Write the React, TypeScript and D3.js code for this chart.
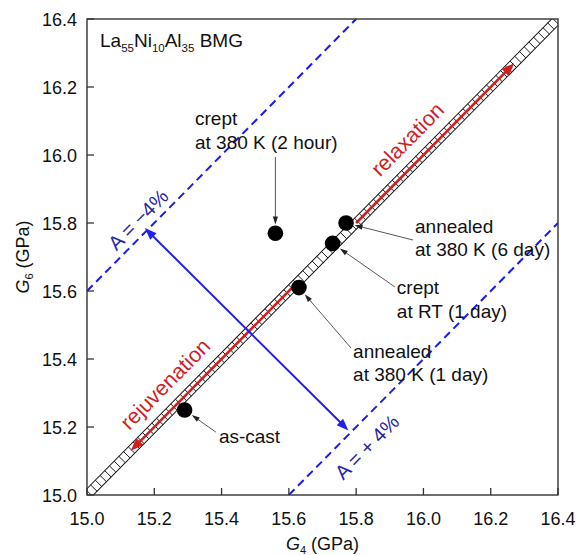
import React from "react";
import * as d3 from "d3";

// samples (G4, G6 in GPa)
const sampleLines = [
  ["as-cast"],
  ["annealed", "at 380 K (1 day)"],
  ["crept", "at 380 K (2 hour)"],
  ["crept", "at RT (1 day)"],
  ["annealed", "at 380 K (6 day)"],
];
const g4Values = [15.29, 15.63, 15.56, 15.73, 15.77];
const g6Values = [15.25, 15.61, 15.77, 15.74, 15.8];

const tickValues = [15.0, 15.2, 15.4, 15.6, 15.8, 16.0, 16.2, 16.4];

// iso-anisotropy lines G6 = G4 + offset
const anisoOffsets = [0.6, -0.6];
const anisoLabels = ["A = \u22124%", "A = + 4%"];

// red arrows along the G6 = G4 diagonal (tail, tip)
const relaxation = [15.8, 16.27];
const rejuvenation = [15.61, 15.13];
// blue arrow between the two dashed lines
const blueArrow = [
  [15.172, 15.785],
  [15.777, 15.19],
];

const W = 576;
const H = 555;
const left = 87;
const right = 558;
const top = 19;
const bottom = 495;
const FONT = "'Liberation Sans', Arial, Helvetica, sans-serif";

const x = d3.scaleLinear().domain([15, 16.4]).range([left, right]);
const y = d3.scaleLinear().domain([15, 16.4]).range([bottom, top]);

type P = [number, number];

function head(tip: P, from: P, len: number, half: number) {
  const dx = tip[0] - from[0];
  const dy = tip[1] - from[1];
  const d = Math.hypot(dx, dy);
  const ux = dx / d;
  const uy = dy / d;
  const bx = tip[0] - ux * len;
  const by = tip[1] - uy * len;
  return `M${tip[0]},${tip[1]}L${bx - uy * half},${by + ux * half}L${bx + uy * half},${by - ux * half}Z`;
}

function shorten(tip: P, from: P, by: number): P {
  const dx = tip[0] - from[0];
  const dy = tip[1] - from[1];
  const d = Math.hypot(dx, dy);
  return [tip[0] - (dx / d) * by, tip[1] - (dy / d) * by];
}

// where the annotation texts sit (data units): text start, arrow tail
const annoLayout = [
  { tx: 15.392, ty: 15.153, ax: 15.383, ay: 15.185 },
  { tx: 15.791, ty: 15.403, ax: 15.785, ay: 15.432 },
  { tx: 15.321, ty: 16.088, ax: 15.56, ay: 15.994 },
  { tx: 15.921, ty: 15.591, ax: 15.915, ay: 15.612 },
  { tx: 15.975, ty: 15.771, ax: 15.969, ay: 15.75 },
];

export default function App() {
  const r = 7.8;

  // hatched band along the diagonal
  const p0: P = [x(15), y(15)];
  const p1: P = [x(16.4), y(16.4)];
  const bandLen = Math.hypot(p1[0] - p0[0], p1[1] - p0[1]);
  const bandAng = (Math.atan2(p1[1] - p0[1], p1[0] - p0[0]) * 180) / Math.PI;
  const bandW = 9;
  const rungs = d3.range(3, bandLen, 6.7);

  const ux = (p1[0] - p0[0]) / bandLen;
  const uy = (p1[1] - p0[1]) / bandLen;
  // perpendicular pointing up-left
  const nx = uy;
  const ny = -ux;

  const redArrow = (rng: number[]) => {
    const tail: P = [x(rng[0]), y(rng[0])];
    const tip: P = [x(rng[1]), y(rng[1])];
    const end = shorten(tip, tail, 9);
    return (
      <g>
        <line x1={tail[0]} y1={tail[1]} x2={end[0]} y2={end[1]} stroke="#d11f1f" strokeWidth={2.6} />
        <path d={head(tip, tail, 13, 5)} fill="#d11f1f" />
      </g>
    );
  };

  const redLabel = (text: string, g: number) => {
    const off = 15;
    const cx = x(g) + nx * off;
    const cy = y(g) + ny * off;
    return (
      <text
        x={cx}
        y={cy}
        transform={`rotate(${bandAng},${cx},${cy})`}
        textAnchor="middle"
        fontSize={21.5}
        fill="#d11f1f"
      >
        {text}
      </text>
    );
  };

  const bA: P = [x(blueArrow[0][0]), y(blueArrow[0][1])];
  const bB: P = [x(blueArrow[1][0]), y(blueArrow[1][1])];
  const bA2 = shorten(bA, bB, 9);
  const bB2 = shorten(bB, bA, 9);

  const anisoLabelPos = [
    [15.152, 15.81],
    [15.832, 15.141],
  ];

  return (
    <svg
      width={W}
      height={H}
      style={{ position: "absolute", left: 0, top: 0, background: "#fff" }}
      fontFamily={FONT}
    >
      <defs>
        <clipPath id="plot">
          <rect x={left} y={top} width={right - left} height={bottom - top} />
        </clipPath>
      </defs>

      <g clipPath="url(#plot)">
        {/* dashed iso lines */}
        {anisoOffsets.map((o, i) => {
          const a = Math.max(15, 15 - o);
          const b = Math.min(16.4, 16.4 - o);
          return (
            <line
              key={i}
              x1={x(a)}
              y1={y(a + o)}
              x2={x(b)}
              y2={y(b + o)}
              stroke="#1a1af2"
              strokeWidth={2}
              strokeDasharray="8,5"
            />
          );
        })}

        {/* hatched band */}
        <g transform={`translate(${p0[0]},${p0[1]}) rotate(${bandAng})`}>
          <rect x={0} y={-bandW / 2} width={bandLen} height={bandW} fill="#fff" stroke="#111" strokeWidth={1} />
          {rungs.map((d, i) => (
            <line key={i} x1={d} x2={d} y1={-bandW / 2} y2={bandW / 2} stroke="#111" strokeWidth={0.9} />
          ))}
        </g>
      </g>

      {redArrow(relaxation)}
      {redArrow(rejuvenation)}
      {redLabel("relaxation", 16.0)}
      {redLabel("rejuvenation", 15.28)}

      {/* blue double arrow */}
      <line x1={bA2[0]} y1={bA2[1]} x2={bB2[0]} y2={bB2[1]} stroke="#2020f0" strokeWidth={2} />
      <path d={head(bA, bB, 12, 4.5)} fill="#2020f0" />
      <path d={head(bB, bA, 12, 4.5)} fill="#2020f0" />

      {anisoLabels.map((t, i) => {
        const cx = x(anisoLabelPos[i][0]);
        const cy = y(anisoLabelPos[i][1]);
        return (
          <text
            key={t}
            x={cx}
            y={cy}
            transform={`rotate(${bandAng},${cx},${cy})`}
            textAnchor="middle"
            dominantBaseline="central"
            fontSize={20}
            fill="#2626a6"
          >
            {t}
          </text>
        );
      })}

      {/* annotations */}
      {sampleLines.map((lines, i) => {
        const lay = annoLayout[i];
        const pt: P = [x(g4Values[i]), y(g6Values[i])];
        const tail: P = [x(lay.ax), y(lay.ay)];
        const tip = shorten(pt, tail, r + 1);
        const lineEnd = shorten(tip, tail, 5);
        return (
          <g key={i}>
            <line x1={tail[0]} y1={tail[1]} x2={lineEnd[0]} y2={lineEnd[1]} stroke="#444" strokeWidth={0.9} />
            <path d={head(tip, tail, 8, 2.6)} fill="#222" />
            {lines.map((l, j) => (
              <text key={j} x={x(lay.tx)} y={y(lay.ty) + j * 23.5} fontSize={19} fill="#111">
                {l}
              </text>
            ))}
          </g>
        );
      })}

      {/* points */}
      {g4Values.map((g, i) => (
        <circle key={i} cx={x(g)} cy={y(g6Values[i])} r={r} fill="#000" />
      ))}

      {/* frame and ticks */}
      <rect x={left} y={top} width={right - left} height={bottom - top} fill="none" stroke="#333" strokeWidth={1.4} />
      {tickValues.map((t) => (
        <g key={t}>
          <line x1={x(t)} x2={x(t)} y1={bottom} y2={bottom - 7} stroke="#333" strokeWidth={1.3} />
          <text x={x(t)} y={525} textAnchor="middle" fontSize={18} fill="#111">
            {t.toFixed(1)}
          </text>
          <line x1={left} x2={left + 7} y1={y(t)} y2={y(t)} stroke="#333" strokeWidth={1.3} />
          <text x={77} y={y(t) + 6.5} textAnchor="end" fontSize={18} fill="#111">
            {t.toFixed(1)}
          </text>
        </g>
      ))}

      {/* axis titles */}
      <text x={(left + right) / 2} y={550} textAnchor="middle" fontSize={18} fill="#111">
        <tspan fontStyle="italic">G</tspan>
        <tspan fontSize={11} dy={4}>4</tspan>
        <tspan dy={-4}> (GPa)</tspan>
      </text>
      <text
        transform={`translate(29,${(top + bottom) / 2}) rotate(-90)`}
        textAnchor="middle"
        fontSize={18}
        fill="#111"
      >
        <tspan fontStyle="italic">G</tspan>
        <tspan fontSize={11} dy={4}>6</tspan>
        <tspan dy={-4}> (GPa)</tspan>
      </text>

      {/* title */}
      <text x={100} y={47} fontSize={19} fill="#111">
        La<tspan fontSize={11.5} dy={5}>55</tspan>
        <tspan dy={-5}>Ni</tspan>
        <tspan fontSize={11.5} dy={5}>10</tspan>
        <tspan dy={-5}>Al</tspan>
        <tspan fontSize={11.5} dy={5}>35</tspan>
        <tspan dy={-5}> BMG</tspan>
      </text>
    </svg>
  );
}
